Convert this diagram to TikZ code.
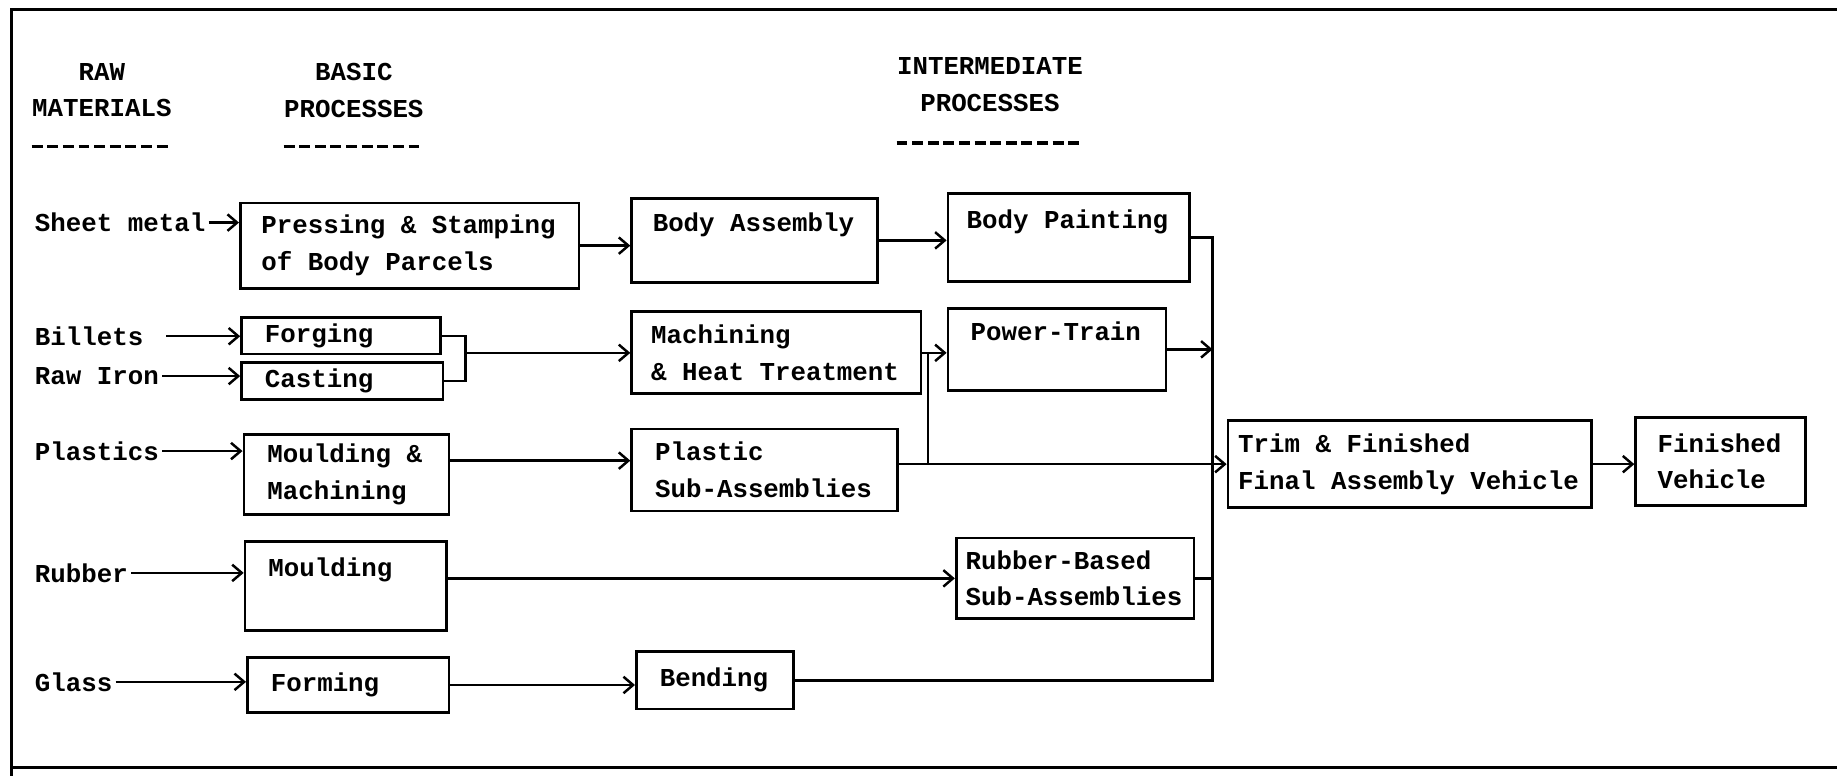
\documentclass[tikz,border=0pt]{standalone}
\usepackage{fontspec}
\setmonofont{Liberation Mono}
\usetikzlibrary{positioning, arrows.meta}

\tikzset{
  procbox/.style={draw, rectangle, line width=1pt, anchor=north west, align=left, inner xsep=0.3cm, inner ysep=0pt,
    execute at begin node={\spaceskip=0.6em\relax}},
  rawmat/.style={anchor=west, inner xsep=1pt},
  heading/.style={align=center, inner sep=0pt},
  flow/.style={line width=0.9pt},
  underline/.style={line width=1.2pt, dash pattern=on 0.14cm off 0.06cm}
}

\begin{document}
\begin{tikzpicture}[x=0.015cm, y=-0.015cm, >={Straight Barb[length=3.5pt, width=6pt]},
  font=\ttfamily\bfseries\fontsize{9.4}{13.4}\selectfont]

	\useasboundingbox (0,0) rectangle (1568,662);

	% Frame
	\draw[line width=1pt] (1568,8) -- (10,8) -- (10,662);
	\draw[line width=1pt] (10,655) -- (1568,655);

	% Column headings
	\node [heading] (rawhead) at (87,77) {RAW\\MATERIALS};
	\node [heading] (basichead) at (302,77) {BASIC\\PROCESSES};
	\node [heading] (interhead) at (845,72) {INTERMEDIATE\\PROCESSES};
	\draw[underline] (rawhead.west |- 0,125) -- (rawhead.east |- 0,125);
	\draw[underline] (basichead.west |- 0,125) -- (basichead.east |- 0,125);
	\draw[underline] (interhead.west |- 0,122) -- (interhead.east |- 0,122);

	% Raw materials
	\node [rawmat] (sheet) at (27,190) {Sheet metal};
	\node [rawmat] (billets) at (27,287) {Billets};
	\node [rawmat] (rawiron) at (27,321) {Raw Iron};
	\node [rawmat] (plastics) at (27,385) {Plastics};
	\node [rawmat] (rubber) at (27,489) {Rubber};
	\node [rawmat] (glass) at (27,582) {Glass};

	% Basic processes
	\node [procbox, inner xsep=0.27cm, text width=3.795cm, minimum height=1.095cm] (press) at (204,172) {Pressing \& Stamping\\of Body Parcels};
	\node [procbox, text width=1.95cm, minimum height=0.465cm] (forging) at (205,270) {Forging};
	\node [procbox, text width=1.98cm, minimum height=0.48cm] (casting) at (205,308) {Casting};
	\node [procbox, text width=2.025cm, minimum height=1.02cm] (mouldmach) at (207,370) {Moulding \&\\Machining};
	\node [procbox, text width=1.98cm, minimum height=1.14cm] (moulding) at (208,461) {Moulding\\\mbox{}};
	\node [procbox, text width=1.98cm, minimum height=0.705cm] (forming) at (210,560) {Forming};

	% Intermediate processes
	\node [procbox, inner xsep=0.27cm, text width=2.61cm, minimum height=1.08cm] (bodyasm) at (538,168) {Body Assembly\\\mbox{}};
	\node [procbox, inner xsep=0.25cm, text width=3.205cm, minimum height=1.05cm] (machining) at (538,265) {Machining\\\& Heat Treatment};
	\node [procbox, text width=2.805cm, minimum height=1.05cm] (plasticsub) at (538,365) {Plastic\\Sub-Assemblies};
	\node [procbox, text width=1.41cm, minimum height=0.735cm] (bending) at (542,555) {Bending};
	\node [procbox, inner xsep=0.24cm, text width=2.61cm, minimum height=1.125cm] (paint) at (808,164) {Body Painting\\\mbox{}};
	\node [procbox, inner xsep=0.29cm, text width=2.21cm, minimum height=1.05cm] (powertrain) at (808,262) {Power-Train\\\mbox{}};
	\node [procbox, inner xsep=0.12cm, text width=2.805cm, minimum height=1.035cm] (rubbersub) at (815,458) {Rubber-Based\\Sub-Assemblies};

	% Final assembly
	\node [procbox, inner xsep=0.13cm, text width=4.39cm, minimum height=1.11cm] (trim) at (1047,358) {Trim \& Finished\\Final Assembly Vehicle};
	\node [procbox, inner xsep=0.28cm, text width=1.615cm, minimum height=1.125cm] (finished) at (1395,355) {Finished\\Vehicle};

	% Raw materials into basic processes
	\draw[flow, ->] (sheet.east) -- (sheet.east -| press.west);
	\draw[flow, ->, shorten <=0.25cm] (billets.east) -- (billets.east -| forging.west);
	\draw[flow, ->] (rawiron.east) -- (rawiron.east -| casting.west);
	\draw[flow, ->] (plastics.east) -- (plastics.east -| mouldmach.west);
	\draw[flow, ->] (rubber.east) -- (rubber.east -| moulding.west);
	\draw[flow, ->] (glass.east) -- (glass.east -| forming.west);

	% Basic into intermediate
	\draw[flow, ->] (press.east) -- (press.east -| bodyasm.west);
	\draw[flow, ->] (bodyasm.east) -- (bodyasm.east -| paint.west);
	\draw[flow] (forging.east) -- ++(20,0) coordinate (fcjoin) |- (casting.east);
	\draw[flow, ->] (fcjoin |- machining.west) -- (machining.west);
	\draw[flow, ->] (machining.east) -- (machining.east -| powertrain.west);
	\draw[flow, ->] ([yshift=0.18cm]mouldmach.east) -- ([yshift=0.18cm]mouldmach.east -| plasticsub.west);
	\draw[flow, ->] (rubbersub.west -| moulding.east) -- (rubbersub.west);
	\draw[flow, ->] (forming.east) -- (forming.east -| bending.west);

	% Collecting line into final assembly
	\coordinate (ptjoin) at (792,300);
	\coordinate (bus) at (1035,0);
	\draw[flow, ->] (plasticsub.east |- trim.west) -- (trim.west);
	\draw[flow] (ptjoin |- trim.west) -- (ptjoin |- machining.east);
	\draw[flow] (paint.east) -| (bending.east -| bus) -- (bending.east);
	\draw[flow, ->] (powertrain.east) -- (powertrain.east -| bus);
	\draw[flow] (rubbersub.east) -- (rubbersub.east -| bus);
	\draw[flow, ->] (trim.east) -- (trim.east -| finished.west);
\end{tikzpicture}
\end{document}
